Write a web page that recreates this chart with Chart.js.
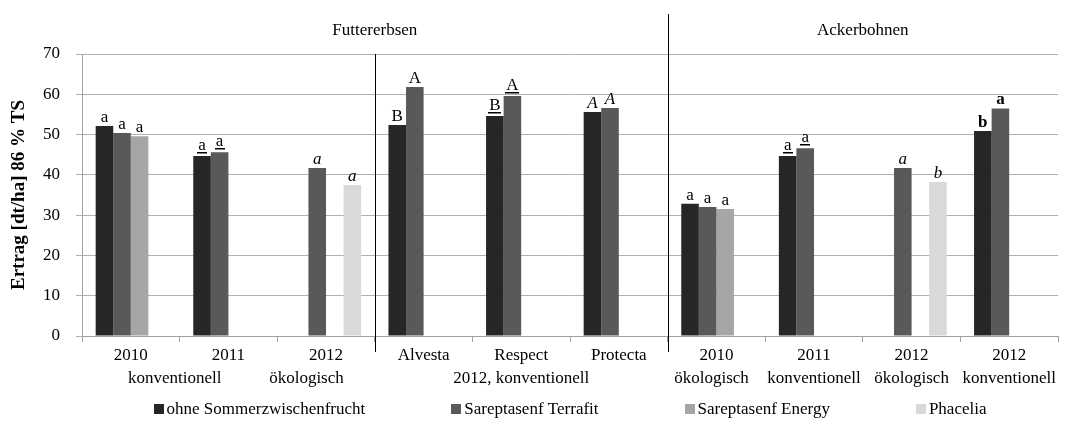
<!DOCTYPE html>
<html>
<head>
<meta charset="utf-8">
<script src="https://cdn.jsdelivr.net/npm/chart.js@4.4.0/dist/chart.umd.min.js"></script>
<style>
  html, body { margin: 0; padding: 0; background: #fff; }
  #wrap { width: 1065px; height: 430px; }
</style>
</head>
<body>
<div id="wrap"><canvas id="ertragChart" width="1065" height="430"></canvas></div>
<script>
// categories and values
const categories = ['2010', '2011', '2012', 'Alvesta', 'Respect', 'Protecta', '2010', '2011', '2012', '2012'];
const seriesNames = ['ohne Sommerzwischenfrucht', 'Sareptasenf Terrafit', 'Sareptasenf Energy', 'Phacelia'];
const ohneSZF = [52.1, 44.7, null, 52.4, 54.6, 55.6, 32.8, 44.7, null, 50.9];
const terrafit = [50.4, 45.6, 41.7, 61.8, 59.6, 56.6, 32.0, 46.6, 41.7, 56.5];
const energy = [49.6, null, null, null, null, null, 31.5, null, null, null];
const phacelia = [null, null, 37.5, null, null, null, null, null, 38.2, null];
const yTicks = [0, 10, 20, 30, 40, 50, 60, 70];

// significance letters above the bars
const lettersOhne = ['a', 'a', null, 'B', 'B', 'A', 'a', 'a', null, 'b'];
const lettersTerrafit = ['a', 'a', 'a', 'A', 'A', 'A', 'a', 'a', 'a', 'a'];
const lettersEnergy = ['a', null, null, null, null, null, 'a', null, null, null];
const lettersPhacelia = [null, null, 'a', null, null, null, null, null, 'b', null];
const letterStyle = ['normal', 'underline', 'italic', 'normal', 'underline', 'italic', 'normal', 'underline', 'italic', 'bold'];

// second label row and group headings
const subLabels = ['konventionell', 'ökologisch', '2012, konventionell', 'ökologisch', 'konventionell', 'ökologisch', 'konventionell'];
const groupNames = ['Futtererbsen', 'Ackerbohnen'];

const colors = ['#262626', '#595959', '#a6a6a6', '#d9d9d9'];
const FONT = '"Liberation Serif", "Times New Roman", serif';

const extras = {
    id: 'extras',
    afterDatasetsDraw(chart) {
        const ctx = chart.ctx;
        const letterSets = [lettersOhne, lettersTerrafit, lettersEnergy, lettersPhacelia];
        letterSets.forEach((letters, i) => {
            const meta = chart.getDatasetMeta(i);
            meta.data.forEach((bar, j) => {
                const txt = letters[j];
                if (!txt) return;
                const style = letterStyle[j];
                ctx.save();
                ctx.font = (style === 'italic' ? 'italic ' : style === 'bold' ? 'bold ' : '') + '17px ' + FONT;
                ctx.fillStyle = '#000';
                ctx.textAlign = 'center';
                ctx.textBaseline = 'alphabetic';
                const y = bar.y - (style === 'underline' ? 6 : 4);
                ctx.fillText(txt, bar.x, y);
                if (style === 'underline') {
                    const w = ctx.measureText(txt).width;
                    ctx.fillRect(Math.round(bar.x - w / 2 - 1), Math.round(y + 2), Math.round(w + 2), 1.5);
                }
                ctx.restore();
            });
        });
    },
    afterDraw(chart) {
        const ctx = chart.ctx;
        const x = chart.scales.x;
        const area = chart.chartArea;
        ctx.save();

        // separators between the trial blocks
        ctx.strokeStyle = '#000';
        ctx.lineWidth = 1;
        const sep1 = Math.round(x.getPixelForValue(2.5)) + 0.5;
        const sep2 = Math.round(x.getPixelForValue(5.5)) + 0.5;
        ctx.beginPath();
        ctx.moveTo(sep1, area.top);
        ctx.lineTo(sep1, area.bottom + 16);
        ctx.moveTo(sep2, 14);
        ctx.lineTo(sep2, area.bottom + 16);
        ctx.stroke();

        // group headings
        ctx.fillStyle = '#000';
        ctx.font = '17px ' + FONT;
        ctx.textAlign = 'center';
        ctx.textBaseline = 'middle';
        ctx.fillText(groupNames[0], x.getPixelForValue(2.5), 31);
        ctx.fillText(groupNames[1], x.getPixelForValue(7.5), 31);

        // second row of axis labels
        const subPos = [0.45, 1.8, 4, 5.95, 7, 8, 9];
        ctx.font = '17px ' + FONT;
        subLabels.forEach((lbl, i) => {
            ctx.fillText(lbl, x.getPixelForValue(subPos[i]), area.bottom + 43);
        });

        // legend
        ctx.font = '17px ' + FONT;
        ctx.textAlign = 'left';
        const box = 10, gap = 3, spacing = 86;
        const widths = seriesNames.map(n => box + gap + ctx.measureText(n).width);
        const total = widths.reduce((a, b) => a + b, 0) + spacing * (widths.length - 1);
        let lx = (area.left + area.right) / 2 - total / 2;
        const ly = 409;
        seriesNames.forEach((n, i) => {
            ctx.fillStyle = colors[i];
            ctx.fillRect(Math.round(lx), ly - 5, box, box);
            ctx.fillStyle = '#000';
            ctx.fillText(n, lx + box + gap, ly + 1);
            lx += widths[i] + spacing;
        });
        ctx.restore();
    }
};

const ctx = document.getElementById('ertragChart').getContext('2d');
const ertragChart = new Chart(ctx, {
    type: 'bar',
    data: {
        labels: categories,
        datasets: [ohneSZF, terrafit, energy, phacelia].map((d, i) => ({
            label: seriesNames[i],
            data: d,
            backgroundColor: colors[i],
            borderWidth: 0,
            categoryPercentage: 0.72,
            barPercentage: 1.0
        }))
    },
    options: {
        responsive: false,
        animation: false,
        devicePixelRatio: 1,
        layout: { padding: { top: 54, left: 0, right: 7, bottom: 0 } },
        plugins: {
            legend: { display: false },
            tooltip: { enabled: false }
        },
        scales: {
            x: {
                grid: { drawOnChartArea: false, drawTicks: true, tickLength: 6, color: '#a0a0a0', offset: true },
                border: { color: '#a0a0a0' },
                ticks: { color: '#000', font: { family: FONT, size: 17 }, padding: 3, maxRotation: 0, autoSkip: false },
                afterFit(scale) { scale.height = 94; }
            },
            y: {
                min: 0,
                max: 70,
                afterBuildTicks(scale) { scale.ticks = yTicks.map(v => ({ value: v })); },
                grid: { color: '#b0b0b0', tickLength: 6 },
                border: { color: '#a0a0a0' },
                ticks: { color: '#000', font: { family: FONT, size: 17 }, padding: 16 },
                title: {
                    display: true,
                    text: 'Ertrag [dt/ha] 86 % TS',
                    color: '#000',
                    font: { family: FONT, size: 19, weight: 'bold' },
                    padding: { top: 8, bottom: 0 }
                },
                afterFit(scale) { scale.width = 82; }
            }
        }
    },
    plugins: [extras]
});
</script>
</body>
</html>
